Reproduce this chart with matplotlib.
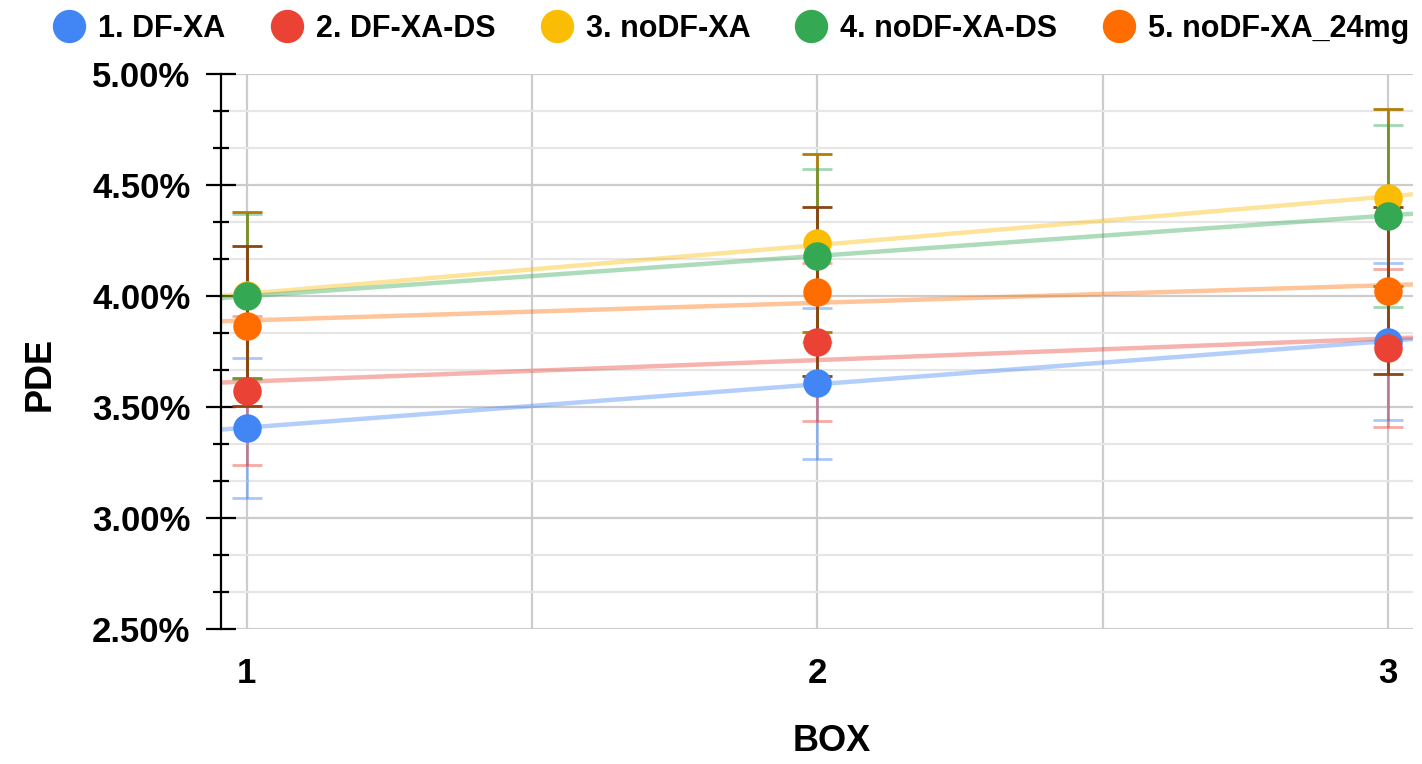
import numpy as np
import matplotlib
matplotlib.use("Agg")
import matplotlib.pyplot as plt
from matplotlib.ticker import MultipleLocator, FuncFormatter
from matplotlib.lines import Line2D

plt.rcParams['font.family'] = ['Liberation Sans', 'DejaVu Sans']
plt.rcParams['font.weight'] = 'bold'

# data (PDE in %)
box = [1, 2, 3]
names = ["1. DF-XA", "2. DF-XA-DS", "3. noDF-XA", "4. noDF-XA-DS", "5. noDF-XA_24mg"]
pde_df_xa = [3.405, 3.607, 3.795]
pde_df_xa_ds = [3.573, 3.794, 3.767]
pde_nodf_xa = [4.005, 4.240, 4.443]
pde_nodf_xa_ds = [3.998, 4.182, 4.362]
pde_nodf_xa_24mg = [3.865, 4.019, 4.024]
err_df_xa = [0.315, 0.340, 0.355]
err_df_xa_ds = [0.335, 0.356, 0.355]
err_nodf_xa = [0.375, 0.400, 0.400]
err_nodf_xa_ds = [0.370, 0.390, 0.410]
err_nodf_xa_24mg = [0.360, 0.380, 0.375]

values = [pde_df_xa, pde_df_xa_ds, pde_nodf_xa, pde_nodf_xa_ds, pde_nodf_xa_24mg]
errors = [err_df_xa, err_df_xa_ds, err_nodf_xa, err_nodf_xa_ds, err_nodf_xa_24mg]
colors = ["#4285F4", "#EA4335", "#FBBC04", "#34A853", "#FF6D01"]
err_colors = [("#4285F4", 0.45), ("#EA4335", 0.45), ("#B07D0A", 1.0),
              ("#34A853", 0.45), ("#8A4512", 1.0)]

fig = plt.figure(figsize=(14.22, 7.64), dpi=100)
ax = fig.add_axes([221/1422, 1 - 629/764, 1192/1422, 555/764])

xmin, xmax = 0.955, 3.044
xs = np.array([xmin, xmax])

# linear trendlines
for i in range(5):
    a, b = np.polyfit(box, values[i], 1)
    ax.plot(xs, a*xs + b, color=colors[i], alpha=0.4, lw=3.2, zorder=3,
            solid_capstyle='butt')
for i in range(5):
    c, al = err_colors[i]
    ax.errorbar(box, values[i], yerr=errors[i], fmt='none', ecolor=c, alpha=al,
                elinewidth=2, capsize=11, capthick=2, zorder=4)
for i in range(5):
    ax.plot(box, values[i], 'o', color=colors[i], ms=20.5, mew=0, zorder=5)

ax.set_xlim(xmin, xmax)
ax.set_ylim(2.5, 5.0)

ax.yaxis.set_major_locator(MultipleLocator(0.5))
ax.yaxis.set_minor_locator(MultipleLocator(0.5/3))
ax.yaxis.set_major_formatter(FuncFormatter(lambda v, p: "%.2f%%" % v))
ax.set_xticks(box)
ax.xaxis.set_minor_locator(MultipleLocator(0.5))

ax.grid(True, which='major', axis='both', color='#cccccc', lw=1.6, zorder=0)
ax.grid(True, which='minor', axis='y', color='#e6e6e6', lw=1.6, zorder=0)
ax.grid(True, which='minor', axis='x', color='#cccccc', lw=1.6, zorder=0)
ax.set_axisbelow(True)

for s in ['top', 'right', 'bottom']:
    ax.spines[s].set_visible(False)
ax.spines['left'].set_linewidth(1.6)
ax.spines['left'].set_zorder(6)

ax.tick_params(axis='y', which='major', direction='inout', length=22, width=1.6,
               labelsize=25, pad=11)
ax.tick_params(axis='y', which='minor', direction='inout', length=11.5, width=1.6)
ax.tick_params(axis='x', which='both', length=0, labelsize=25, pad=20)

ax.set_xlabel("BOX", fontsize=26, fontweight='bold')
ax.set_ylabel("PDE", fontsize=26, fontweight='bold')
ax.xaxis.set_label_coords(0.512, -0.172)
ax.yaxis.set_label_coords(-0.137, 0.459)

handles = [Line2D([], [], marker='o', ls='none', color=colors[i], ms=24, mew=0)
           for i in range(5)]
fig.legend(handles, names, loc='upper center', bbox_to_anchor=(0.5144, 1.018), ncol=5,
           frameon=False, fontsize=22, handletextpad=0.45, columnspacing=1.5,
           handlelength=1.0)

fig.savefig("out.png", dpi=100)
